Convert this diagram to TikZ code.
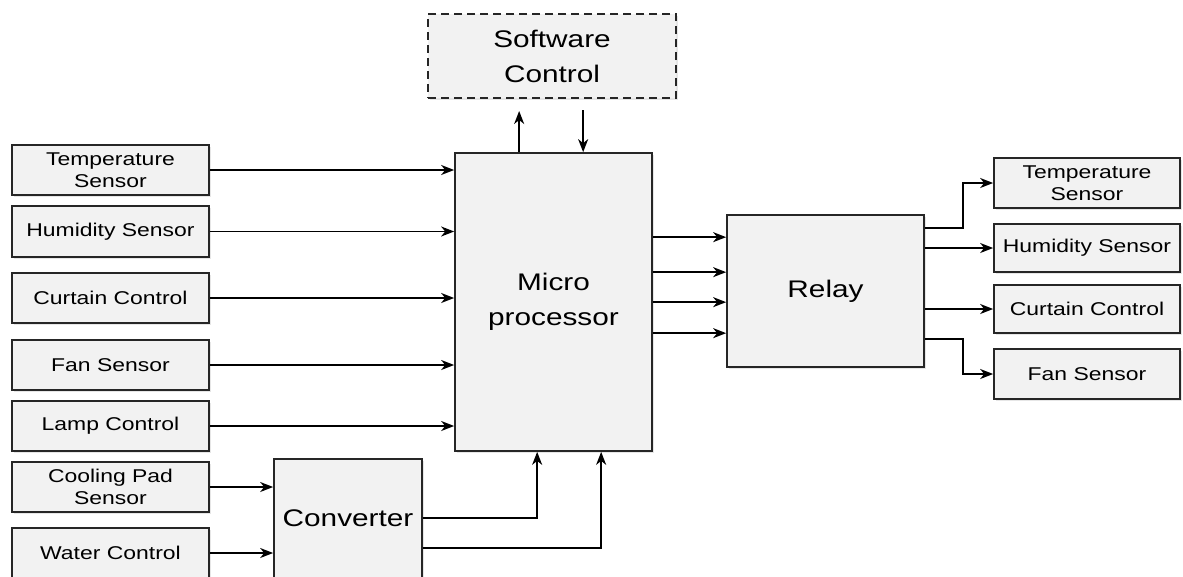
\documentclass[tikz,border=0pt]{standalone}
\usepackage{fontspec}
\newfontfamily\blockfont{Liberation Sans}[FakeStretch=1.24]
\usetikzlibrary{arrows.meta,calc,shadows}

\tikzset{
  block/.style={draw=black!85, line width=1.7pt, fill=black!5, inner sep=0pt, align=center,
    drop shadow={opacity=0.2, shadow xshift=1.5pt, shadow yshift=-1.5pt},
    font=\blockfont\fontsize{18.5}{22}\selectfont},
  bigblock/.style={block, font=\blockfont\fontsize{24}{35}\selectfont},
  arr/.style={line width=1.7pt, -{Stealth[length=13pt,width=10pt,inset=4pt]}},
}

\begin{document}
\begin{tikzpicture}[x=1pt,y=-1pt]
    \useasboundingbox (0,0) rectangle (1183,576);
    % sensors and controls feeding the board
    \node[block, minimum width=197, minimum height=50] (tsIn) at (110.5,170) {Temperature\\Sensor};
    \node[block, minimum width=197, minimum height=51] (hsIn) at (110.5,231.5) {Humidity Sensor};
    \node[block, minimum width=197, minimum height=50] (ccIn) at (110.5,298) {Curtain Control};
    \node[block, minimum width=197, minimum height=50] (fsIn) at (110.5,365) {Fan Sensor};
    \node[block, minimum width=197, minimum height=50] (lcIn) at (110.5,426) {Lamp Control};
    \node[block, minimum width=197, minimum height=50] (cpIn) at (110.5,487) {Cooling Pad\\Sensor};
    \node[block, minimum width=197, minimum height=50] (wcIn) at (110.5,553) {Water Control};
    % main blocks
    \node[bigblock, minimum width=197, minimum height=298] (mp) at (553.5,302) {Micro\\processor};
    \node[bigblock, minimum width=148, minimum height=119] (conv) at (348,518.5) {Converter};
    \node[bigblock, minimum width=197, minimum height=152] (relay) at (825.5,291) {Relay};
    \node[bigblock, minimum width=248, minimum height=84, line width=2pt,
          dash pattern=on 8pt off 5pt] (sc) at (552,56) {Software\\Control};
    % outputs behind the relay
    \node[block, minimum width=186, minimum height=50] (tsOut) at (1087,183) {Temperature\\Sensor};
    \node[block, minimum width=186, minimum height=48] (hsOut) at (1087,248) {Humidity Sensor};
    \node[block, minimum width=186, minimum height=48] (ccOut) at (1087,309) {Curtain Control};
    \node[block, minimum width=186, minimum height=50] (fsOut) at (1087,374) {Fan Sensor};

    \foreach \n in {tsIn,hsIn,ccIn,fsIn,lcIn} \draw[arr] (\n.east) -- (\n.east -| mp.west);
    \foreach \n in {cpIn,wcIn} \draw[arr] (\n.east) -- (\n.east -| conv.west);

    \draw[arr] ($(conv.north east)+(0,60)$) -| ($(mp.south west)+(83,0)$);
    \draw[arr] ($(conv.north east)+(0,90)$) -| ($(mp.south west)+(147,0)$);

    \coordinate (su) at ($(mp.north west)+(65,0)$);
    \coordinate (sd) at ($(mp.north west)+(129,0)$);
    \draw[arr, shorten >=12pt] (su) -- (su |- sc.south);
    \draw[arr, shorten <=11pt] (sd |- sc.south) -- (sd);

    \foreach \dy in {23,58,88,119} {
        \coordinate (rin) at ($(relay.north west)+(0,\dy)$);
        \draw[arr] (rin -| mp.east) -- (rin);
    }

    \draw[arr] ($(relay.north east)+(0,14)$) -- ++(38,0) |- (tsOut.west);
    \draw[arr] (hsOut.west -| relay.east) -- (hsOut.west);
    \draw[arr] (ccOut.west -| relay.east) -- (ccOut.west);
    \draw[arr] ($(relay.north east)+(0,125)$) -- ++(38,0) |- (fsOut.west);
\end{tikzpicture}
\end{document}
